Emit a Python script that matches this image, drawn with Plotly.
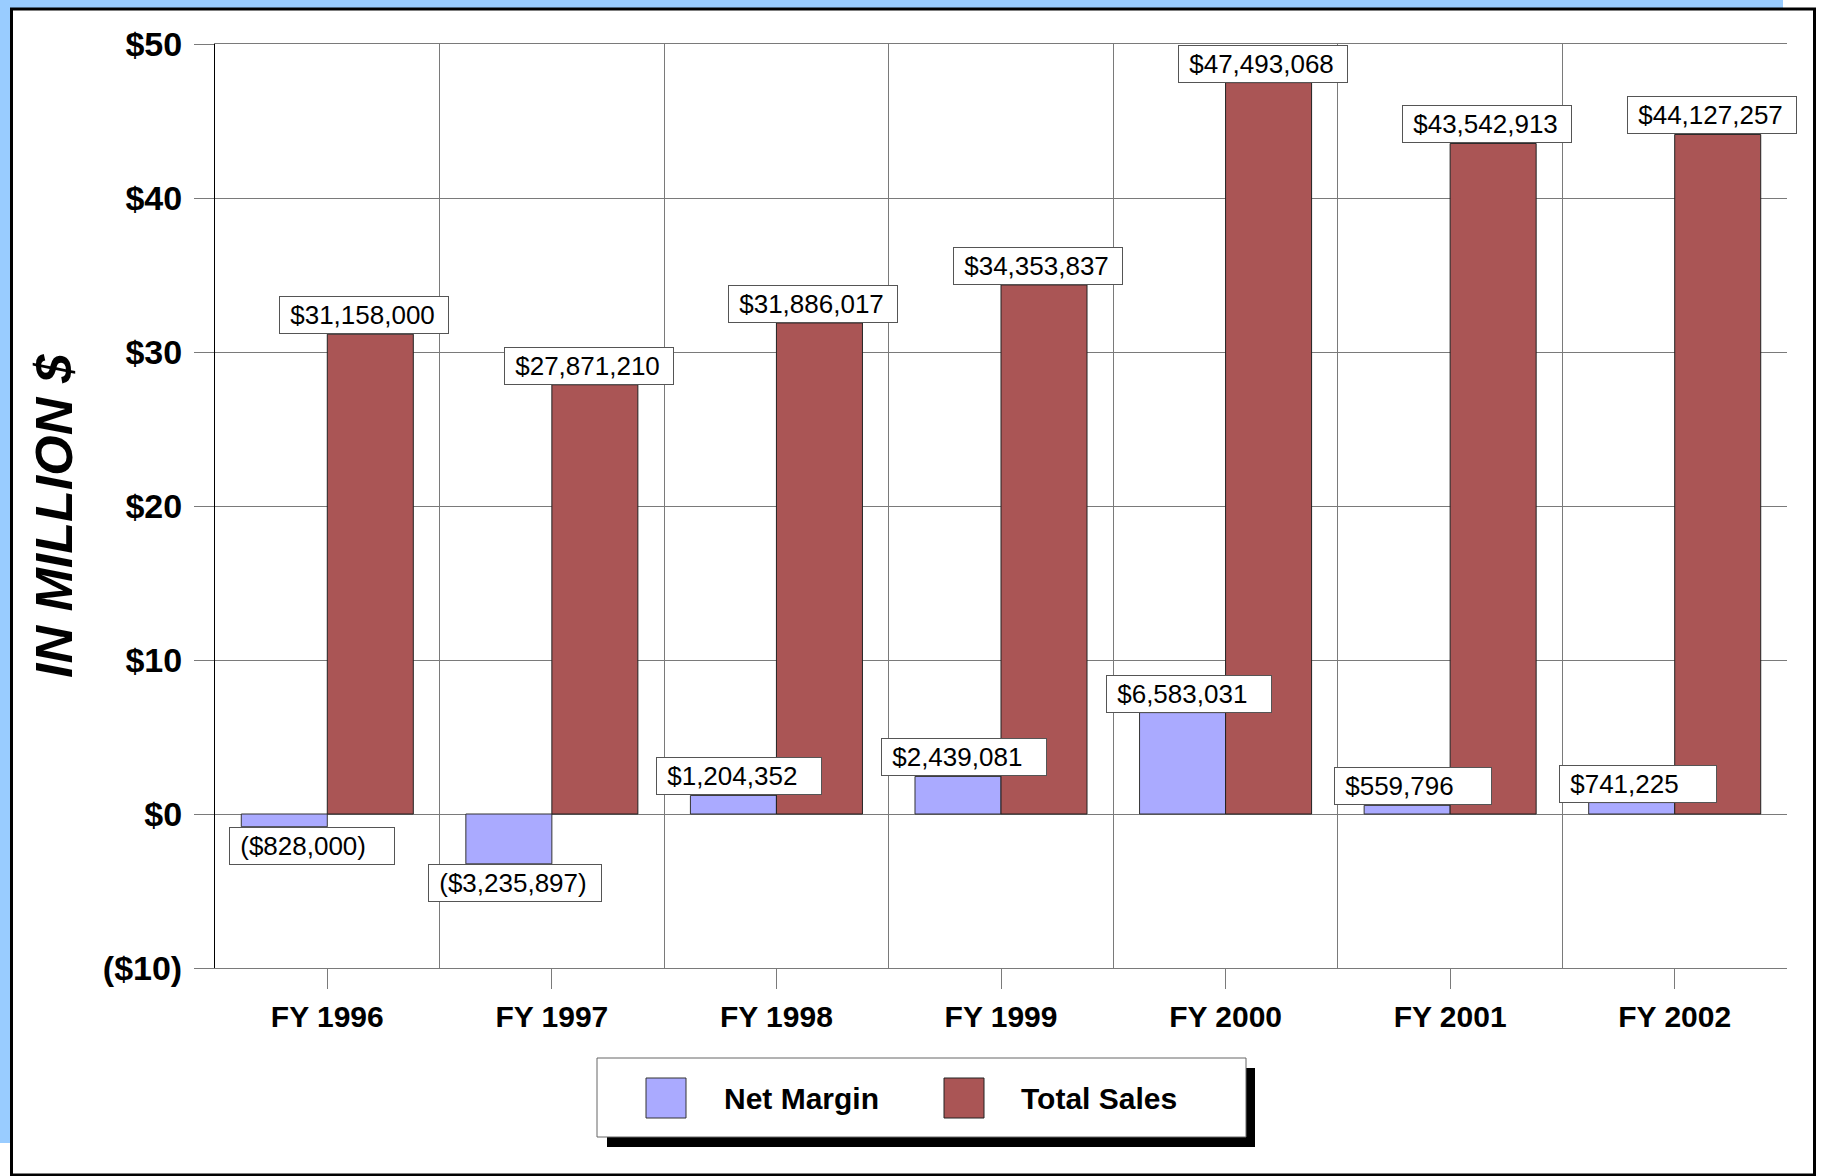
import plotly.graph_objects as go

# ---------------- data ----------------
categories = ["FY 1996", "FY 1997", "FY 1998", "FY 1999", "FY 2000", "FY 2001", "FY 2002"]
net_margin = [-828000, -3235897, 1204352, 2439081, 6583031, 559796, 741225]
total_sales = [31158000, 27871210, 31886017, 34353837, 47493068, 43542913, 44127257]
y_tick_vals = [-10, 0, 10, 20, 30, 40, 50]
y_tick_text = ["($10)", "$0", "$10", "$20", "$30", "$40", "$50"]
series_names = ["Net Margin", "Total Sales"]
y_title = "IN MILLION $"

# ---------------- style ----------------
W, H = 1822, 1176
L, R, T, B = 215, 35, 44, 208
PW, PH = W - L - R, H - T - B
FONT = "Liberation Sans, Arial, Helvetica, sans-serif"
C_NET = "#AAAAFF"
C_SALES = "#AA5555"
GRID = "#7a7a7a"
NBSP = "\u00a0"
BARGAP = 0.234


def px_x(px):
    return (px - L) / PW


def px_y(py):
    return (H - B - py) / PH


def money(v):
    s = "${:,}".format(abs(v))
    return "(" + s + ")" if v < 0 else s


to_m = lambda arr: [v / 1e6 for v in arr]

fig = go.Figure()
fig.add_trace(go.Bar(x=categories, y=to_m(net_margin), name=series_names[0],
                     marker=dict(color=C_NET, line=dict(color="#333333", width=1))))
fig.add_trace(go.Bar(x=categories, y=to_m(total_sales), name=series_names[1],
                     marker=dict(color=C_SALES, line=dict(color="#222222", width=1))))
# invisible helper trace on the boundary-grid axis
fig.add_trace(go.Scatter(x=[-0.5, 6.5], y=[0, 0], xaxis="x2", yaxis="y",
                         mode="markers", marker=dict(opacity=0), showlegend=False,
                         hoverinfo="skip"))

# ---------------- data labels ----------------
cat_w = PW / len(categories)
half = cat_w * (1 - BARGAP) / 4  # half bar width in px
annotations = []
lab_font = dict(family=FONT, size=26, color="black")
for i, cat in enumerate(categories):
    for val, sign in ((net_margin[i], -1), (total_sales[i], 1)):
        txt = money(val)
        shift = sign * (half - 6)
        box_w = 126 + 4 * len(txt)
        center_px = L + (i + 0.5) * cat_w + shift
        if center_px - box_w / 2 < L + 14:       # keep inside plot area
            shift += (L + 14) - (center_px - box_w / 2)
        annotations.append(dict(
            x=cat, y=val / 1e6, xref="x", yref="y", xshift=shift,
            text=NBSP + txt, showarrow=False, align="left", width=box_w - 8,
            yanchor="bottom" if val >= 0 else "top", xanchor="center",
            font=lab_font, bgcolor="white", bordercolor="#555555",
            borderwidth=1, borderpad=3))

# ---------------- y title ----------------
annotations.append(dict(x=px_x(54), y=px_y(516), xref="paper", yref="paper",
                        text=y_title, textangle=-90, showarrow=False,
                        xanchor="center", yanchor="middle",
                        font=dict(family=FONT, size=52, color="black",
                                  weight="bold", style="italic")))

# ---------------- manual legend text ----------------
leg_font = dict(family=FONT, size=30, color="black", weight="bold")
for name, tx in zip(series_names, (722, 1019)):
    annotations.append(dict(x=px_x(tx), y=px_y(1098), xref="paper", yref="paper",
                            text="<b>" + name + "</b>", showarrow=False,
                            xanchor="left", yanchor="middle", font=leg_font))

# ---------------- decoration shapes ----------------
shapes = [
    dict(type="rect", xref="paper", yref="paper", layer="below",
         x0=px_x(0), x1=px_x(1783), y0=px_y(0), y1=px_y(1143),
         fillcolor="#99CCFF", line=dict(width=0)),
    dict(type="rect", xref="paper", yref="paper", layer="below",
         x0=px_x(11.5), x1=px_x(1814.5), y0=px_y(9), y1=px_y(1175),
         fillcolor="white", line=dict(color="black", width=3)),
    # legend shadow + box
    dict(type="rect", xref="paper", yref="paper", layer="below",
         x0=px_x(607), x1=px_x(1255), y0=px_y(1068), y1=px_y(1147),
         fillcolor="black", line=dict(width=0)),
    dict(type="rect", xref="paper", yref="paper", layer="below",
         x0=px_x(597), x1=px_x(1246), y0=px_y(1058), y1=px_y(1137),
         fillcolor="white", line=dict(color="#666666", width=1)),
    # legend swatches
    dict(type="rect", xref="paper", yref="paper", layer="below",
         x0=px_x(646), x1=px_x(686), y0=px_y(1078), y1=px_y(1118),
         fillcolor=C_NET, line=dict(color="#333333", width=1)),
    dict(type="rect", xref="paper", yref="paper", layer="below",
         x0=px_x(944), x1=px_x(984), y0=px_y(1078), y1=px_y(1118),
         fillcolor=C_SALES, line=dict(color="#222222", width=1)),
]

fig.update_layout(
    width=W, height=H,
    margin=dict(l=L, r=R, t=T, b=B, pad=0),
    paper_bgcolor="white", plot_bgcolor="white",
    barmode="group", bargap=BARGAP, bargroupgap=0,
    showlegend=False,
    font=dict(family=FONT, color="black"),
    xaxis=dict(type="category", categoryorder="array", categoryarray=categories,
               range=[-0.5, 6.5],
               showgrid=False, ticks="outside", ticklen=20, tickwidth=1,
               tickcolor=GRID, showline=True, linecolor=GRID, linewidth=1,
               mirror=True, ticklabelstandoff=2,
               tickfont=dict(family=FONT, size=30, color="black", weight="bold")),
    xaxis2=dict(overlaying="x", anchor="y", range=[-0.5, 6.5],
                tickvals=[0.5, 1.5, 2.5, 3.5, 4.5, 5.5, 6.5],
                showticklabels=False, ticks="", showgrid=True, gridcolor=GRID,
                gridwidth=1, zeroline=False, showline=False),
    yaxis=dict(range=[-10, 50], tickvals=y_tick_vals, ticktext=y_tick_text,
               showgrid=True, gridcolor=GRID, gridwidth=1, zeroline=False,
               ticks="outside", ticklen=20, tickcolor=GRID, tickwidth=1,
               showline=True, linecolor="black", linewidth=1,
               ticklabelstandoff=5,
               tickfont=dict(family=FONT, size=34, color="black", weight="bold")),
    shapes=shapes,
    annotations=annotations,
)

fig.write_html("out.html", config={"displayModeBar": False},
               post_script="document.body.style.margin='0';"
                           "document.body.style.overflow='hidden';")
